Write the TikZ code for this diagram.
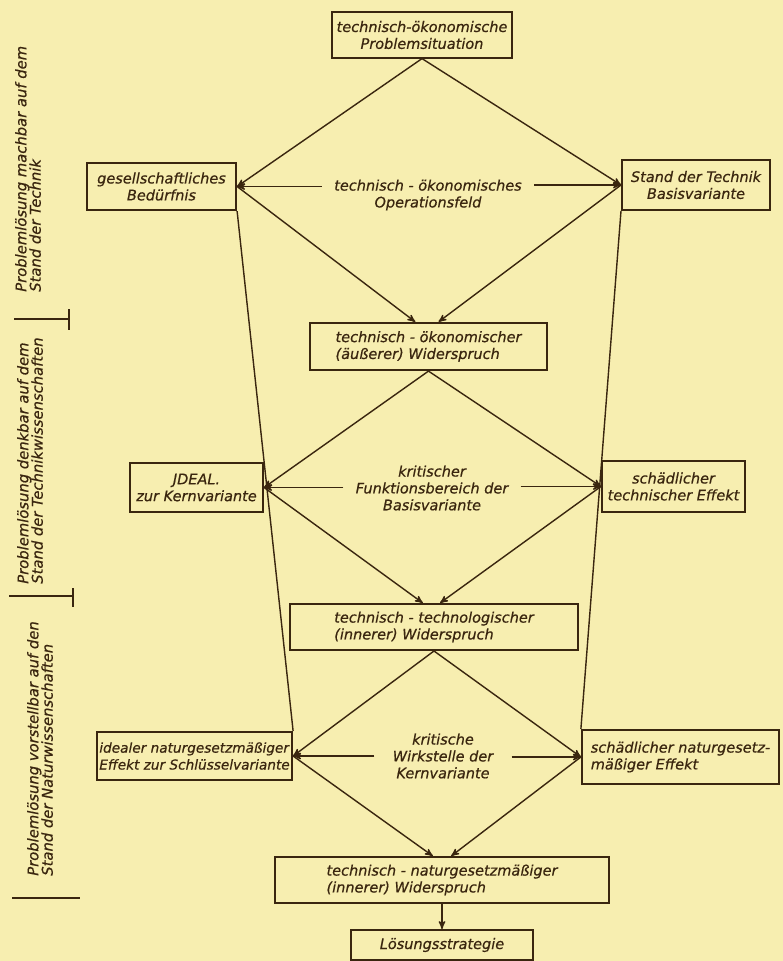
\documentclass[tikz,border=0pt]{standalone}
\usepackage{fontspec}
\setmainfont{DejaVu Sans}[ItalicFeatures={FakeBold=0.6}]
\usetikzlibrary{arrows}
\definecolor{paper}{RGB}{247,238,176}
\definecolor{ink}{RGB}{58,38,15}

\begin{document}
\begin{tikzpicture}[x=0.025cm,y=-0.025cm]
\tikzstyle{every node}=[font=\itshape\fontsize{10.3}{12}\selectfont,text=ink];
\tikzstyle{box}=[draw=ink,line width=1.4pt,inner sep=0pt];
\tikzstyle{lbl}=[inner xsep=0.3cm,inner ysep=0pt,align=center];
\tikzstyle{side}=[rotate=90,anchor=west,align=left,inner sep=0pt,font=\itshape\fontsize{10.5}{10.2}\selectfont];
\tikzstyle{pfeil}=[draw=ink,line width=1pt,-stealth'];
\tikzstyle{linie}=[draw=ink,line width=1pt];

\fill[paper] (0,0) rectangle (783,961);
\useasboundingbox (0,0) rectangle (783,961);

% Kaesten
\path (422,35) node[box,align=center,minimum width=4.48cm,minimum height=1.13cm] (P) {technisch-ökonomische\\Problemsituation};
\path (161.5,186.5) node[box,align=center,minimum width=3.73cm,minimum height=1.18cm] (GB) {gesellschaftliches\\Bedürfnis};
\path (696,185) node[box,align=center,minimum width=3.7cm,minimum height=1.25cm] (ST) {Stand der Technik\\Basisvariante};
\path (428.5,346.5) node[box,align=left,minimum width=5.93cm,minimum height=1.18cm] (W1) {technisch - ökonomischer\\(äußerer) Widerspruch};
\path (196.5,487.5) node[box,align=center,minimum width=3.33cm,minimum height=1.23cm] (ID) {JDEAL.\\zur Kernvariante};
\path (673.5,486.5) node[box,align=center,minimum width=3.58cm,minimum height=1.28cm] (SE) {schädlicher\\technischer Effekt};
\path (434,627) node[box,align=left,minimum width=7.2cm,minimum height=1.15cm] (W2) {technisch - technologischer\\(innerer) Widerspruch};
\path (194.5,756) node[box,align=left,minimum width=4.88cm,minimum height=1.2cm,font=\itshape\fontsize{9.7}{12}\selectfont] (IN) {idealer naturgesetzmäßiger\\Effekt zur Schlüsselvariante};
\path (680.5,757) node[box,align=left,minimum width=4.93cm,minimum height=1.35cm] (SN) {schädlicher naturgesetz-\\mäßiger Effekt};
\path (442,880) node[box,align=left,minimum width=8.33cm,minimum height=1.15cm] (W3) {technisch - naturgesetzmäßiger\\(innerer) Widerspruch};
\path (442,945) node[box,align=center,minimum width=4.53cm,minimum height=0.75cm] (LS) {Lösungsstrategie};

% Felder zwischen den Kaesten
\path (428,195) node[lbl] (OF) {technisch - ökonomisches\\Operationsfeld};
\path (432,488) node[lbl] (FB) {kritischer\\Funktionsbereich der\\Basisvariante};
\path (443,756) node[lbl,inner xsep=0.45cm] (WS) {kritische\\Wirkstelle der\\Kernvariante};

% Ebenen links
\path (28,292) node[side] (E1) {Problemlösung machbar auf dem\\Stand der Technik};
\path (30,584) node[side] (E2) {Problemlösung denkbar auf dem\\Stand der Technikwissenschaften};
\path (40,876) node[side] (E3) {Problemlösung vorstellbar auf den\\Stand der Naturwissenschaften};
\draw[linie] (14,319) -- (68,319) (69,309) -- (69,330);
\draw[linie] (9,596) -- (73,596) (73,588) -- (73,607);
\draw[linie] (12,898) -- (80,898);

\draw[pfeil] (P.south) -- (GB.east);
\draw[pfeil] (P.south) -- (ST.west);
\draw[pfeil] (GB.east -| OF.west) -- (GB.east);
\draw[pfeil] (ST.west -| OF.east) -- (ST.west);
\draw[pfeil] (GB.east) -- ([xshift=-0.33cm]W1.north);
\draw[pfeil] (ST.west) -- ([xshift=0.25cm]W1.north);

\draw[pfeil] (W1.south) -- (ID.east);
\draw[pfeil] (W1.south) -- (SE.west);
\draw[pfeil] (ID.east -| FB.west) -- (ID.east);
\draw[pfeil] (SE.west -| FB.east) -- (SE.west);
\draw[pfeil] (ID.east) -- ([xshift=-0.28cm]W2.north);
\draw[pfeil] (SE.west) -- ([xshift=0.15cm]W2.north);

\draw[pfeil] (W2.south) -- (IN.east);
\draw[pfeil] (W2.south) -- (SN.west);
\draw[pfeil] (IN.east -| WS.west) -- (IN.east);
\draw[pfeil] (SN.west -| WS.east) -- (SN.west);
\draw[pfeil] (IN.east) -- ([xshift=-0.23cm]W3.north);
\draw[pfeil] (SN.west) -- ([xshift=0.23cm]W3.north);
\draw[pfeil] (W3.south) -- (LS.north);

\draw[linie] (GB.south east) -- (IN.north east);
\draw[linie] (ST.south west) -- (SN.north west);
\end{tikzpicture}
\end{document}
